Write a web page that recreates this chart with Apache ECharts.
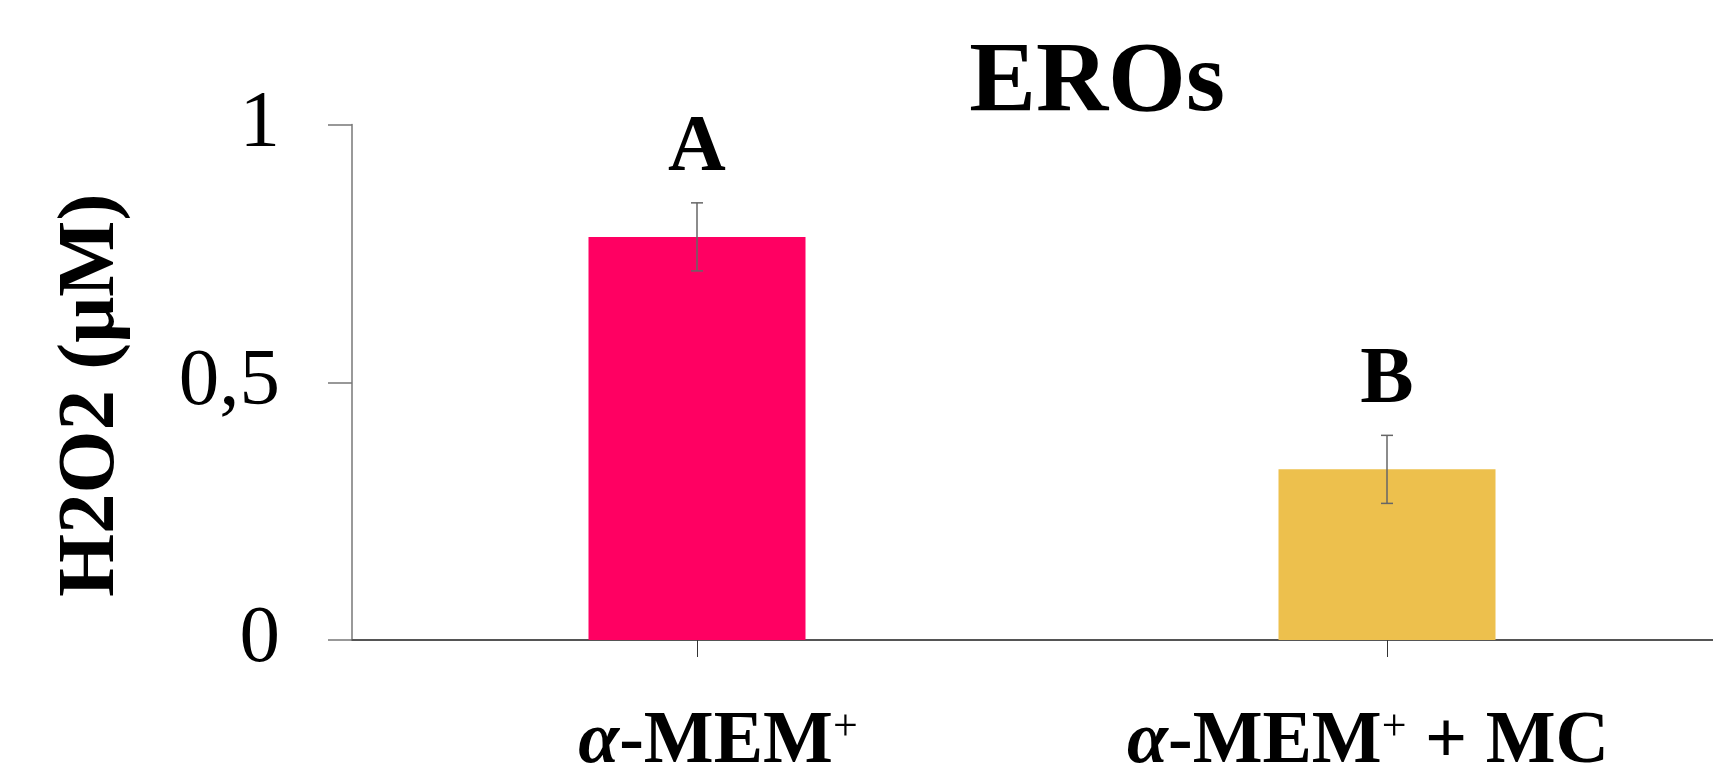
<!DOCTYPE html>
<html>
<head>
<meta charset="utf-8">
<title>EROs</title>
<script src="https://cdn.jsdelivr.net/npm/echarts@6/dist/echarts.min.js"></script>
<style>
  html, body { margin: 0; padding: 0; background: #fff; }
  #chart { width: 1713px; height: 770px; }
</style>
</head>
<body>
<div id="chart"></div>
<script>
// Treatment groups, mean H2O2 concentration (µM), error (±) and significance letters
const categories = ['α-MEM+', 'α-MEM+ + MC'];
const means = [0.782, 0.331];
const errors = [0.066, 0.066];
const letters = ['A', 'B'];
const yTicks = [0, 0.5, 1];

const barColors = ['#FF0062', '#EDC04D'];
// horizontal nudges of the category captions
const labelPads = [[0, 0, 0, 42], [0, 38, 0, 0]];
const serif = 'Liberation Serif';

const chart = echarts.init(document.getElementById('chart'), null, { renderer: 'canvas' });

function categoryLabel(v) {
  // α in italics, "+" after MEM as superscript
  const rest = v.replace(/^α/, '');
  const idx = rest.indexOf('MEM+');
  const head = rest.slice(0, idx + 3);
  const tail = rest.slice(idx + 4);
  let s = '{i|α}{b|' + head + '}{s|+}';
  if (tail) s += '{b|' + tail + '}';
  return s;
}

const option = {
  backgroundColor: '#ffffff',
  animation: false,
  title: {
    text: 'EROs',
    left: 1092,
    top: 29,
    textAlign: 'center',
    textStyle: { fontFamily: serif, fontWeight: 'bold', fontSize: 100, color: '#000' }
  },
  grid: { left: 352, right: -19, top: 124.5, bottom: 130, containLabel: false, outerBoundsMode: 'none' },
  xAxis: {
    type: 'category',
    data: categories.map((c, i) => ({ value: c, textStyle: { padding: labelPads[i] } })),
    axisLine: { show: true, lineStyle: { color: '#555', width: 2 } },
    axisTick: { show: true, alignWithLabel: true, length: 17, lineStyle: { color: '#333', width: 1 } },
    axisLabel: {
      margin: 66,
      formatter: categoryLabel,
      rich: {
        i: { fontFamily: serif, fontStyle: 'italic', fontWeight: 'bold', fontSize: 74, color: '#000' },
        b: { fontFamily: serif, fontWeight: 'bold', fontSize: 74, color: '#000' },
        s: { fontFamily: serif, fontWeight: 'normal', fontSize: 44, color: '#000', verticalAlign: 'top', padding: [0, 0, 26, 0] }
      }
    }
  },
  yAxis: {
    type: 'value',
    min: 0,
    max: 1,
    interval: 0.5,
    name: 'H2O2 (μM)',
    nameLocation: 'middle',
    nameGap: 219,
    nameRotate: 90,
    nameTextStyle: { fontFamily: serif, fontWeight: 'bold', fontSize: 81, color: '#000', padding: [0, 0, 0, -26] },
    axisLine: { show: true, lineStyle: { color: '#777', width: 1.5 } },
    axisTick: { show: true, inside: false, length: 24, lineStyle: { color: '#777', width: 1.5 } },
    splitLine: { show: false },
    axisLabel: {
      margin: 72,
      fontFamily: serif,
      fontSize: 81,
      color: '#000',
      customValues: yTicks,
      formatter: v => String(v).replace('.', ',')
    }
  },
  series: [
    {
      type: 'bar',
      data: means.map((m, i) => ({ value: m, itemStyle: { color: barColors[i] } })),
      barWidth: 217
    },
    {
      type: 'custom',
      data: categories.map((c, i) => [i, means[i], errors[i], letters[i]]),
      encode: { x: 0, y: 1 },
      z: 10,
      renderItem: function (params, api) {
        const i = api.value(0);
        const m = api.value(1);
        const e = api.value(2);
        const letter = letters[params.dataIndex];
        const top = api.coord([i, m + e]);
        const bot = api.coord([i, m - e]);
        const half = 6;
        const ls = { stroke: '#666', lineWidth: 1.5 };
        return {
          type: 'group',
          children: [
            { type: 'line', shape: { x1: top[0], y1: top[1], x2: bot[0], y2: bot[1] }, style: ls },
            { type: 'line', shape: { x1: top[0] - half, y1: top[1], x2: top[0] + half, y2: top[1] }, style: ls },
            { type: 'line', shape: { x1: bot[0] - half, y1: bot[1], x2: bot[0] + half, y2: bot[1] }, style: ls },
            {
              type: 'text',
              style: {
                text: letter,
                x: top[0],
                y: top[1] - 14,
                align: 'center',
                verticalAlign: 'bottom',
                fontFamily: serif,
                fontWeight: 'bold',
                fontSize: 80,
                fill: '#000'
              }
            }
          ]
        };
      }
    }
  ]
};

chart.setOption(option);
</script>
</body>
</html>
